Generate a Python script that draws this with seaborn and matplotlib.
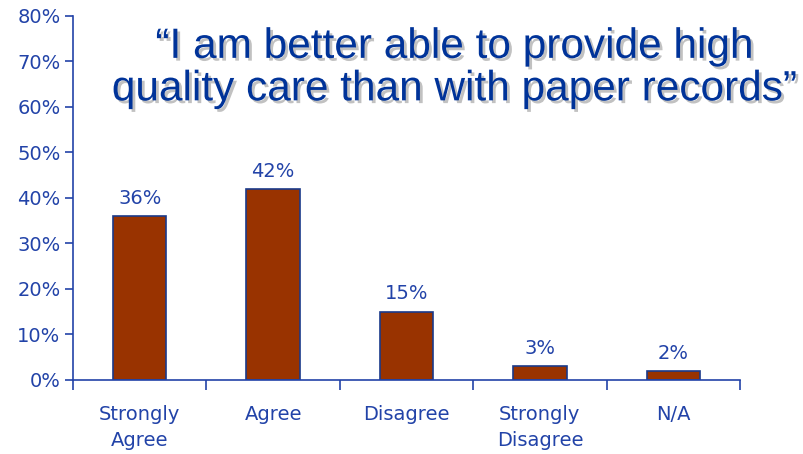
import matplotlib
matplotlib.use("Agg")
from matplotlib import pyplot as plt
import matplotlib.patheffects as pe
import seaborn as sns
import pandas as pd

categories = ["Strongly\nAgree", "Agree", "Disagree", "Strongly\nDisagree", "N/A"]
percents = [36, 42, 15, 3, 2]
y_ticks = [0, 10, 20, 30, 40, 50, 60, 70, 80]

blue = "#2243a8"
df = pd.DataFrame({"Response": categories, "Percent": percents})

sns.set_style("white")
plt.rcParams["font.family"] = ["DejaVu Sans"]

fig = plt.figure(figsize=(8.04, 4.54), dpi=100)
ax = fig.add_axes([0.0908, 0.163, 0.8296, 0.8018])
sns.barplot(data=df, x="Response", y="Percent", color="#993300",
            width=0.4, saturation=1, edgecolor="#1a3a8a", linewidth=1.2, ax=ax)

ax.set_ylim(0, 80)
ax.set_xlim(-0.5, 4.5)
ax.set_yticks(y_ticks)
ax.set_yticklabels(["%d%%" % v for v in y_ticks], color=blue, fontsize=14)
ax.set_xticks(range(len(categories)))
ax.set_xticklabels(categories, color=blue, fontsize=14, linespacing=1.45)
ax.set_xticks([i - 0.5 for i in range(len(categories) + 1)], minor=True)
ax.tick_params(axis="x", which="major", length=0, pad=18)
ax.tick_params(axis="x", which="minor", length=7, width=1.2, color=blue, direction="out", bottom=True)
ax.tick_params(axis="y", length=6, width=1.2, color=blue, direction="out", left=True, pad=3)
ax.set_xlabel("")
ax.set_ylabel("")

for s in ["top", "right"]:
    ax.spines[s].set_visible(False)
for s in ["left", "bottom"]:
    ax.spines[s].set_color(blue)
    ax.spines[s].set_linewidth(1.2)

for i, v in enumerate(percents):
    ax.annotate("%d%%" % v, (i, v), xytext=(0, 6), textcoords="offset points",
                ha="center", va="bottom", color=blue, fontsize=14)

fig.text(0.565, 0.85, "\u201cI am better able to provide high\nquality care than with paper records\u201d",
         ha="center", va="center", fontsize=30.5, color="#003399",
         family=["Liberation Sans", "DejaVu Sans"], linespacing=1.08,
         path_effects=[pe.withSimplePatchShadow(offset=(2, -2), shadow_rgbFace="#999999", alpha=0.6)])

fig.savefig("out.png", dpi=100, facecolor="white")
